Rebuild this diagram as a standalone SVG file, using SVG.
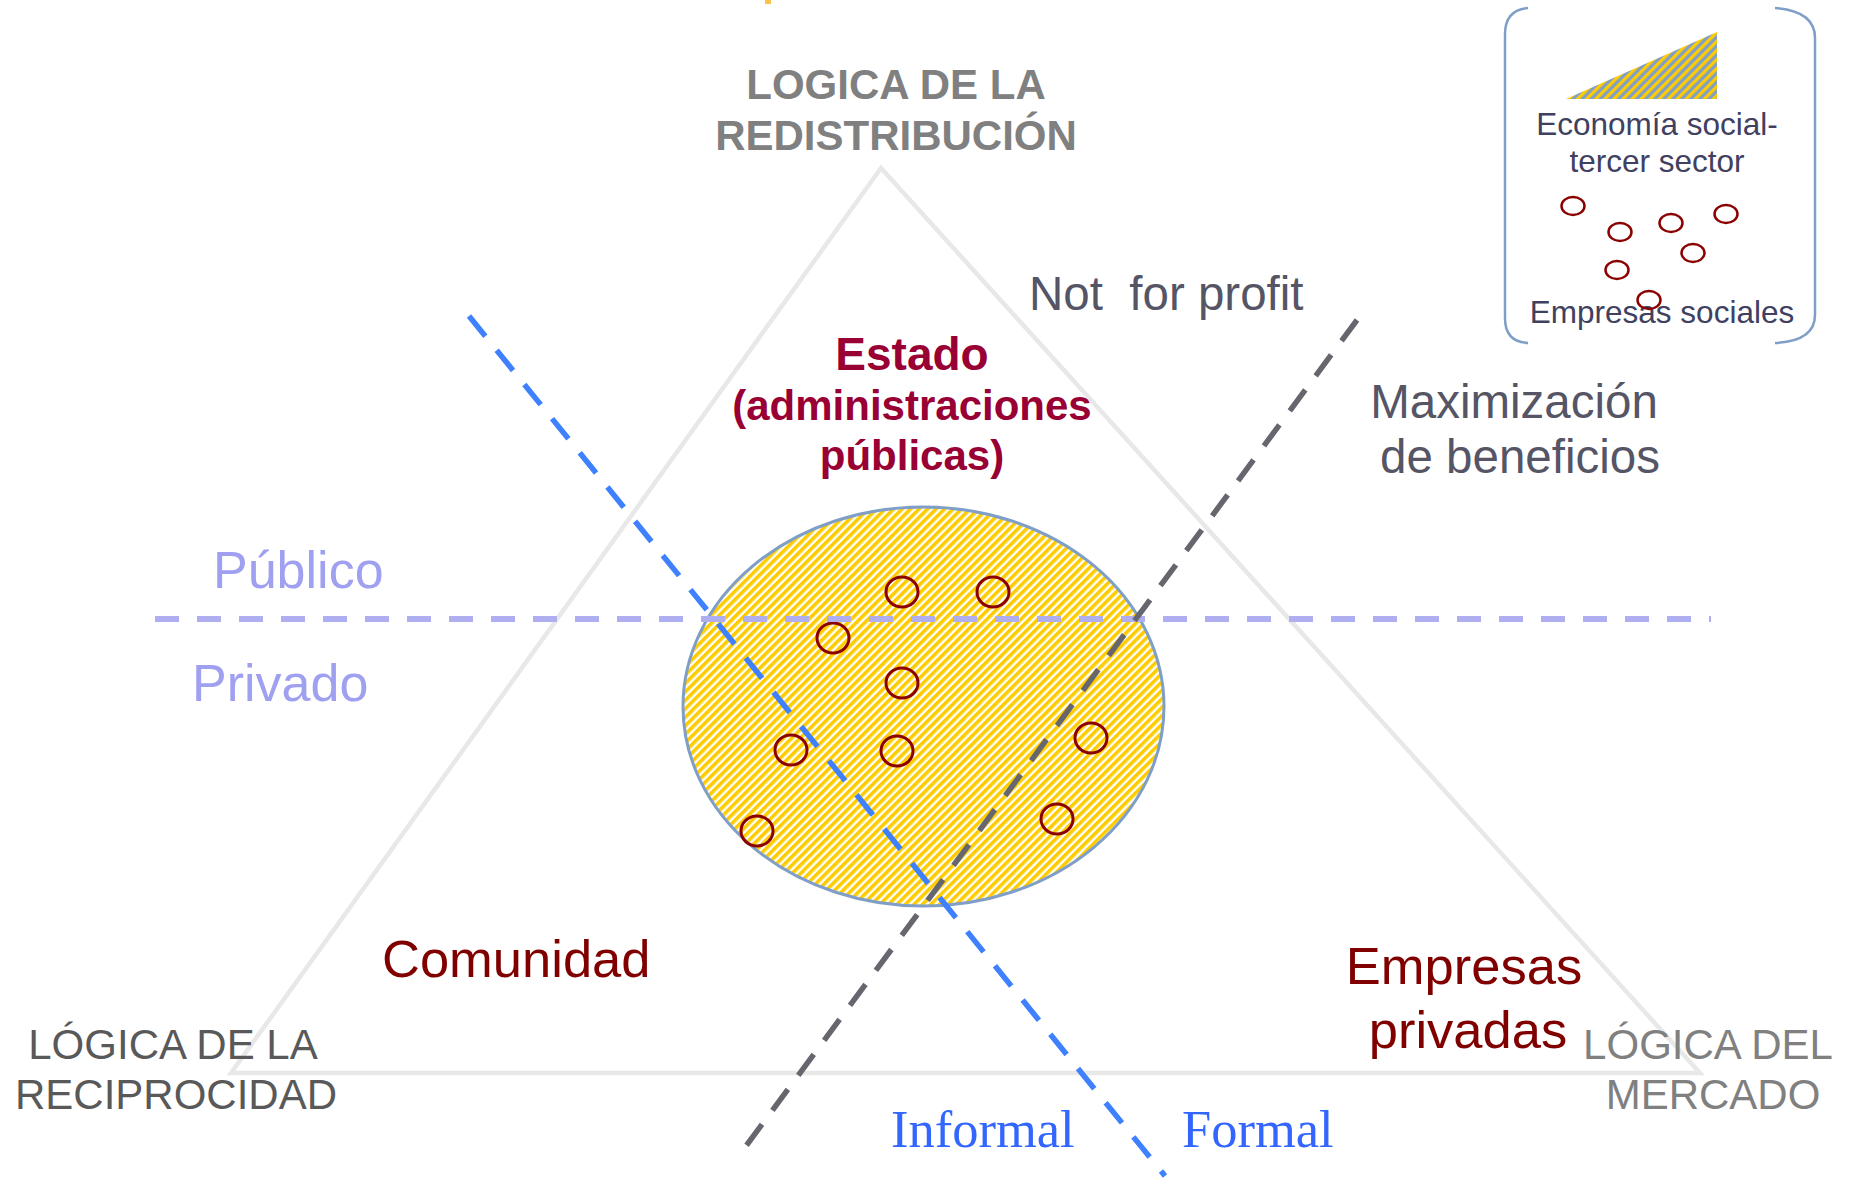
<svg xmlns="http://www.w3.org/2000/svg" width="1854" height="1179" viewBox="0 0 1854 1179">
<style>
text{font-family:"Liberation Sans",Arial,sans-serif}
.serif{font-family:"Liberation Serif","Times New Roman",serif}
.corner{font-size:42px}
.dark{fill:#555566;font-size:47.5px}
.leg{fill:#404060;font-size:31.5px}
.red{fill:#800000;font-size:52.5px}
.pub{fill:#a0a0f0;font-size:52px}
.blue{fill:#3366ff;font-size:52.5px}
.circ{fill:none;stroke:#8b0000;stroke-width:3}
.lcirc{fill:none;stroke:#8b0000;stroke-width:2.5}
</style>
<defs>
<pattern id="yel" width="6" height="6" patternUnits="userSpaceOnUse" patternTransform="rotate(45)">
<rect width="6" height="6" fill="#ffffff"/>
<rect width="3.6" height="6" fill="#ffcc00"/>
</pattern>
<pattern id="yb" width="6.4" height="6.4" patternUnits="userSpaceOnUse" patternTransform="rotate(45)">
<rect width="6.4" height="6.4" fill="#7f9fc8"/>
<rect width="3.2" height="6.4" fill="#ffcc00"/>
</pattern>
</defs>
<rect width="1854" height="1179" fill="#ffffff"/>
<rect x="765" y="0" width="6" height="4" fill="#f9c04a"/>

<g id="triangle">
<polygon points="881,168 1700,1073 231,1073" fill="none" stroke="#e8e8e8" stroke-width="4.5" stroke-linejoin="miter"/>
</g>

<g id="ellipse-economia-social">
<ellipse cx="923.5" cy="706.5" rx="240.5" ry="199.5" fill="url(#yel)" stroke="#7f9fc8" stroke-width="3"/>
</g>

<g id="empresas-sociales-circles">
<ellipse class="circ" cx="902" cy="592" rx="16" ry="15"/>
<ellipse class="circ" cx="993" cy="592" rx="16" ry="15"/>
<ellipse class="circ" cx="833" cy="638" rx="16" ry="15"/>
<ellipse class="circ" cx="902" cy="683" rx="16" ry="15"/>
<ellipse class="circ" cx="791" cy="750" rx="16" ry="15"/>
<ellipse class="circ" cx="897" cy="751" rx="16" ry="15"/>
<ellipse class="circ" cx="1091" cy="738" rx="16" ry="15"/>
<ellipse class="circ" cx="757" cy="831" rx="16" ry="15"/>
<ellipse class="circ" cx="1057" cy="819" rx="16" ry="15"/>
</g>

<g id="label-redistribucion">
<text x="896" y="99" text-anchor="middle" font-size="42" font-weight="bold" fill="#808080">LOGICA DE LA</text>
<text x="896" y="150" text-anchor="middle" font-size="42" font-weight="bold" fill="#808080">REDISTRIBUCIÓN</text>
</g>

<g id="label-reciprocidad">
<text class="corner" x="173" y="1059" text-anchor="middle" fill="#595959">LÓGICA DE LA</text>
<text class="corner" x="176" y="1109" text-anchor="middle" fill="#595959">RECIPROCIDAD</text>
</g>

<g id="label-mercado">
<text class="corner" x="1708" y="1059" text-anchor="middle" fill="#808080">LÓGICA DEL</text>
<text class="corner" x="1713" y="1109" text-anchor="middle" fill="#808080">MERCADO</text>
</g>

<g id="label-estado">
<text x="912" y="370" text-anchor="middle" font-size="46" font-weight="bold" fill="#990033">Estado</text>
<text x="912" y="420" text-anchor="middle" font-size="42" font-weight="bold" fill="#990033">(administraciones</text>
<text x="912" y="470" text-anchor="middle" font-size="42" font-weight="bold" fill="#990033">públicas)</text>
</g>

<g id="label-not-for-profit">
<text class="dark" x="1029" y="310" xml:space="preserve">Not  for profit</text>
</g>

<g id="label-maximizacion">
<text class="dark" x="1514" y="418" text-anchor="middle">Maximización</text>
<text class="dark" x="1520" y="473" text-anchor="middle">de beneficios</text>
</g>

<g id="label-publico">
<text class="pub" x="213" y="588">Público</text>
</g>
<g id="label-privado">
<text class="pub" x="192" y="701">Privado</text>
</g>

<g id="label-comunidad">
<text class="red" x="382" y="977">Comunidad</text>
</g>

<g id="label-empresas-privadas">
<text class="red" x="1464" y="984" text-anchor="middle">Empresas</text>
<text class="red" x="1468" y="1048" text-anchor="middle">privadas</text>
</g>

<g id="label-informal">
<text class="serif blue" x="891" y="1147">Informal</text>
</g>
<g id="label-formal">
<text class="serif blue" x="1182" y="1147">Formal</text>
</g>

<g id="connectors">
<line x1="155" y1="619" x2="1711" y2="619" stroke="#aeaef0" stroke-width="6" stroke-dasharray="24 18"/>
<line x1="469" y1="316" x2="1165" y2="1176" stroke="#3f80ff" stroke-width="5.5" stroke-dasharray="26 18"/>
<line x1="1357" y1="320" x2="746" y2="1146" stroke="#66666f" stroke-width="5.5" stroke-dasharray="26 17.5"/>
</g>

<g id="legend">
<path d="M1528,8 Q1505,10 1505,34 L1505,318 Q1505,342 1528,343" fill="none" stroke="#7f9fc8" stroke-width="2.5"/>
<path d="M1775,8 Q1815,11 1815,38 L1815,315 Q1815,341 1775,343" fill="none" stroke="#7f9fc8" stroke-width="2.5"/>
<polygon points="1566,99 1717,32 1717,99" fill="url(#yb)"/>
<text class="leg" x="1657" y="135" text-anchor="middle">Economía social-</text>
<text class="leg" x="1657" y="172" text-anchor="middle">tercer sector</text>
<text class="leg" x="1662" y="323" text-anchor="middle">Empresas sociales</text>
<ellipse class="lcirc" cx="1573" cy="206" rx="11.5" ry="9"/>
<ellipse class="lcirc" cx="1620" cy="232" rx="11.5" ry="9"/>
<ellipse class="lcirc" cx="1671" cy="223" rx="11.5" ry="9"/>
<ellipse class="lcirc" cx="1726" cy="214" rx="11.5" ry="9"/>
<ellipse class="lcirc" cx="1693" cy="253" rx="11.5" ry="9"/>
<ellipse class="lcirc" cx="1617" cy="270" rx="11.5" ry="9"/>
<ellipse class="lcirc" cx="1649" cy="300" rx="11.5" ry="9"/>
</g>
</svg>
